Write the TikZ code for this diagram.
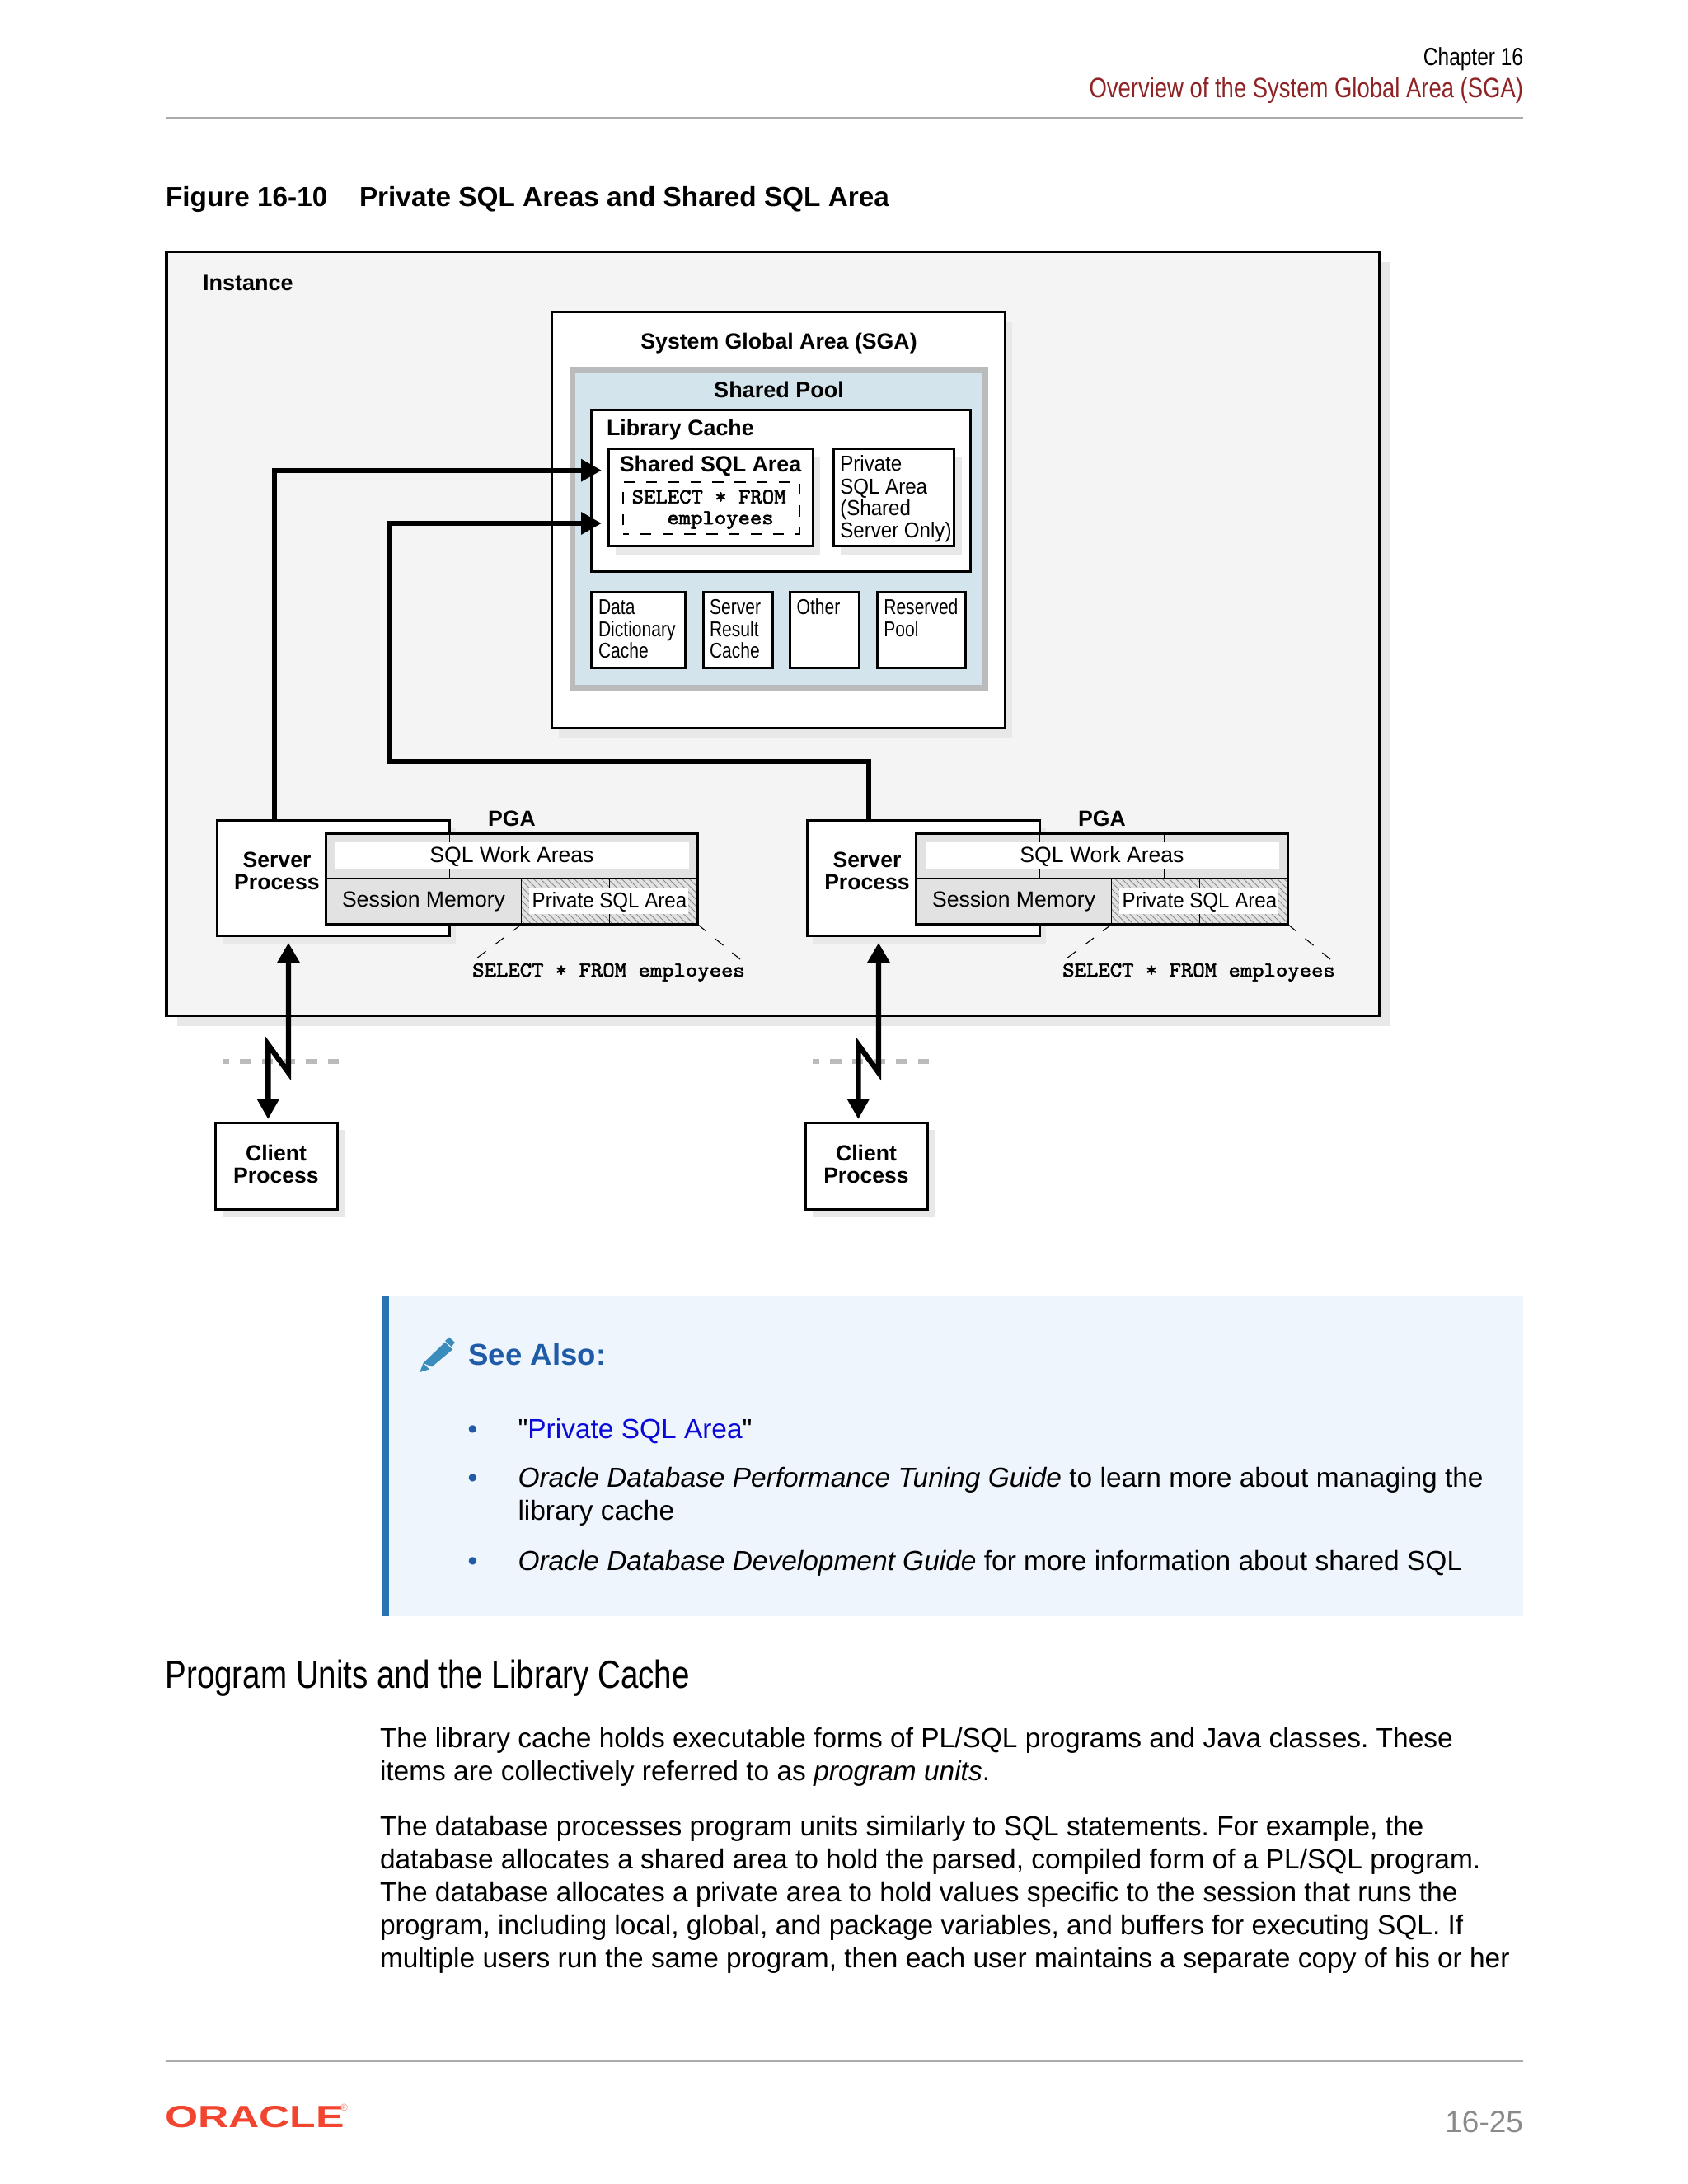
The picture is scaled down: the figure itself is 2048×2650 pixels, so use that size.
\documentclass[tikz,border=0pt]{standalone}
\usepackage{fontspec}
\usepackage{xcolor}
\usetikzlibrary{arrows.meta,patterns.meta,shadows}
\setmainfont{Liberation Sans}
\newfontfamily\slimtext[FakeStretch=0.81]{Liberation Sans}
\newfontfamily\boxtext[FakeStretch=0.81]{Liberation Sans}
\newfontfamily\midtext[FakeStretch=0.92]{Liberation Sans}
\newfontfamily\logotext[FakeStretch=1.38]{Liberation Sans}
\newfontfamily\quotetext{Liberation Sans}
\newfontfamily\codetext[FakeBold=2.4,FakeStretch=1.09]{Latin Modern Mono}
\definecolor{instfill}{HTML}{F4F4F4}
\definecolor{shadegrey}{HTML}{E8E8E8}
\definecolor{poolblue}{HTML}{D3E4EC}
\definecolor{poolrim}{HTML}{B9BBBC}
\definecolor{pgagrey}{HTML}{E2E2E2}
\definecolor{rulegrey}{HTML}{ABABAB}
\definecolor{noteblue}{HTML}{EEF5FD}
\definecolor{notebar}{HTML}{2A72B2}
\definecolor{notehead}{HTML}{1F5BA6}
\definecolor{pencilblue}{HTML}{3A8CBD}
\definecolor{linkblue}{HTML}{0A0AD8}
\definecolor{headred}{HTML}{8E2326}
\definecolor{logored}{HTML}{F2452F}
\definecolor{pagegrey}{HTML}{8A8A8A}
\tikzset{
  sized/.style 2 args={minimum width=#1*0.5pt,minimum height=#2*0.5pt,anchor=north west,inner sep=0pt,outer sep=0pt},
  boxw/.style={draw=black,line width=1.5pt,fill=white},
  castshadow/.style 2 args={copy shadow={shadow xshift=#1*0.5pt,shadow yshift=-#2*0.5pt,fill=shadegrey,draw=none}},
  lbl/.style={anchor=base west,inner sep=0pt,outer sep=0pt},
  lblc/.style={anchor=base,inner sep=0pt,outer sep=0pt},
  lblr/.style={anchor=base east,inner sep=0pt,outer sep=0pt},
  heavy/.style={font=\bfseries\fontsize{13.3}{14}\selectfont},
  small/.style={font=\boxtext\fontsize{13}{14}\selectfont},
  plain/.style={font=\fontsize{13.3}{14}\selectfont},
  sqlcode/.style={font=\codetext\fontsize{12.8}{14}\selectfont},
  body/.style={font=\frenchspacing\fontsize{16.73}{20}\selectfont},
  flow/.style={line width=3.2pt,miter limit=12,line join=miter},
  flowtip/.style={-{Triangle[length=12.5pt,width=13pt]}}
}
\begin{document}
\begin{tikzpicture}[x=0.5pt,y=-0.5pt]
\useasboundingbox (0,0) rectangle (2048,2650);
% page head
\node[lblr,font=\slimtext\fontsize{15.1}{16}\selectfont] (chapter) at (1848,79) {Chapter 16};
\node[lblr,font=\slimtext\fontsize{16.95}{18}\selectfont,text=headred] (section) at (1848,118.5) {Overview of the System Global Area (SGA)};
\draw[rulegrey,line width=1pt] (201,143) -- (1848,143);
\node[lbl,font=\bfseries\fontsize{16.67}{18}\selectfont] (figno) at (201,250) {Figure 16-10};
\node[lbl,font=\bfseries\fontsize{16.67}{18}\selectfont] (figname) at (436,250) {Private SQL Areas and Shared SQL Area};
% instance
\node[sized={1472}{927},draw=black,line width=1.75pt,fill=instfill,castshadow={13}{12}] (inst) at (202,305.5) {};
\node[lbl,font=\bfseries\fontsize{13.5}{14}\selectfont] (instname) at (246,352.4) {Instance};
% sga
\node[sized={550}{505},boxw,castshadow={9}{12}] (sga) at (669,378.5) {};
\node[lblc,font=\bfseries\fontsize{13.35}{14}\selectfont] (sganame) at (945,423) {System Global Area (SGA)};
\node[sized={501}{386},draw=poolrim,line width=3.5pt,fill=poolblue] (pool) at (694.5,448.5) {};
\node[lblc,font=\bfseries\fontsize{13.5}{14}\selectfont] (poolname) at (945,482) {Shared Pool};
\node[sized={459.7}{195.5},boxw] (lib) at (717.3,497.8) {};
\node[lbl,font=\bfseries\fontsize{13.4}{14}\selectfont] (libname) at (736,528) {Library Cache};
\node[sized={248}{118},boxw,castshadow={9}{10}] (shared) at (738,544.5) {};
\node[lblc,font=\bfseries\fontsize{13.4}{14}\selectfont] (sharedname) at (862,572) {Shared SQL Area};
\node[sized={214}{63},draw=black,line width=1pt,dash pattern=on 6.7pt off 6.7pt,dash phase=3pt] (stmt) at (756,585) {};
\node[lbl,sqlcode] (stmta) at (766.7,610.7) {SELECT * FROM};
\node[lblc,sqlcode] (stmtb) at (874,636) {employees};
\node[sized={146.5}{118},boxw,castshadow={9}{10}] (priv) at (1011,544.5) {};
\foreach \n/\yb/\txt in {a/571.7/Private,b/599/SQL Area,c/625.3/(Shared,d/652.3/Server Only)}
  \node[lbl,font=\midtext\fontsize{13.1}{14}\selectfont] (priv\n) at (1019.3,\yb) {\txt};
\node[sized={114.3}{92.3},boxw] (dict) at (717.5,718.5) {};
\node[sized={84}{92.3},boxw] (result) at (853,718.5) {};
\node[sized={84.5}{92.3},boxw] (other) at (958,718.5) {};
\node[sized={107.5}{92.3},boxw] (reserved) at (1064,718.5) {};
\foreach \n/\xb/\yb/\txt in {a/726/745.7/Data,b/726/772.3/Dictionary,c/726/798.3/Cache,d/861/745.7/Server,e/861/772.3/Result,f/861/798.3/Cache,g/966.7/745.7/Other,h/1072.3/745.7/Reserved,i/1072.3/772.3/Pool}
  \node[lbl,small] (tag\n) at (\xb,\yb) {\txt};
% both server processes
\foreach \dx/\s in {0/a,716/b}{
\begin{scope}[shift={(\dx,0)}]
  \node[sized={282.2}{139.9},boxw,castshadow={7}{9}] (srv\s) at (263.3,995.8) {};
  \node[lblc,heavy] (srvname\s) at (336,1052.5) {Server};
  \node[lblc,heavy] (srvproc\s) at (336,1079) {Process};
  \node[lblc,heavy] (pganame\s) at (621,1002) {PGA};
  \node[sized={451}{54.3},fill=pgagrey] (work\s) at (395.7,1011.7) {};
  \node[sized={236.8}{55.7},fill=pgagrey] (sess\s) at (395.7,1066) {};
  \node[sized={214.2}{55.7},fill=pgagrey,postaction={pattern={Lines[angle=-45,distance=2.9pt,line width=.45pt]},pattern color=black!45}] (area\s) at (632.5,1066) {};
  \draw[line width=.8pt] (545.5,1011.7) -- (545.5,1066) (696.3,1011.7) -- (696.3,1066) (739.3,1066) -- (739.3,1121.7);
  \node[sized={428.6}{32.7},fill=white] (workw\s) at (407,1022) {};
  \node[sized={193.3}{32.6},fill=white] (areaw\s) at (641.7,1076.7) {};
  \draw[line width=.9pt] (area\s.north west) -- (area\s.south west) (work\s.south west) -- (work\s.south east);
  \node[sized={451}{110},draw=black,line width=1.25pt] (pga\s) at (395.7,1011.7) {};
  \node[lblc,plain] (workname\s) at (621,1046.7) {SQL Work Areas};
  \node[lbl,plain] (sessname\s) at (415,1100) {Session Memory};
  \node[lbl,font=\midtext\fontsize{13.1}{14}\selectfont] (areaname\s) at (645.7,1101) {Private SQL Area};
  \coordinate (cutl\s) at (576.7,1164);
  \coordinate (cutr\s) at (898,1164);
  \draw[line width=.55pt,dash pattern=on 6.5pt off 7pt] (area\s.south west) -- (cutl\s);
  \draw[line width=.55pt,dash pattern=on 6.5pt off 7pt] (area\s.south east) -- (cutr\s);
  \node[lblc,sqlcode] (stmtfull\s) at (738.5,1185) {SELECT * FROM employees};
  \node[sized={148}{105.5},boxw,castshadow={9}{9}] (client\s) at (261,1362.3) {};
  \node[lblc,heavy] (clientname\s) at (335,1408.5) {Client};
  \node[lblc,heavy] (clientproc\s) at (335,1435) {Process};
  \coordinate (netl\s) at (269.7,1288);
  \coordinate (netr\s) at (411.7,1288);
  \draw[poolrim,line width=3pt,dash pattern=on 6.67pt off 6.67pt,dash phase=2.5pt] (netl\s) -- (netr\s);
  \coordinate (upend\s) at (350,1144);
  \coordinate (downend\s) at (325.3,1358);
  \draw[flow,{Triangle[length=12pt,width=13pt]}-{Triangle[length=12.5pt,width=13pt]}] (upend\s) -- ++(0,157.5) -- ++(-24.7,-34) -- (downend\s);
\end{scope}
}
% connectors to the shared sql area
\coordinate (froma) at (333,995.8);
\coordinate (fromb) at (1054,995.8);
\coordinate (toa) at (730,570.7);
\coordinate (tob) at (730,635);
\coordinate (bendb) at (472.7,924);
\draw[flow,flowtip] (froma) |- (toa);
\draw[flow,flowtip] (fromb) |- (bendb) |- (tob);
% see also
\node[sized={1384}{388},fill=noteblue] (note) at (464,1573) {};
\node[sized={8}{388},fill=notebar] (notebar) at (464,1573) {};
\fill[pencilblue] (513.5,1654) -- (540,1628.5) -- (549,1637.5) -- (524,1658.5) -- cycle;
\fill[pencilblue] (540,1627) -- (545,1622.5) -- (552,1629) -- (547.5,1634) -- cycle;
\fill[pencilblue] (513.5,1654) -- (521,1661.5) -- (509.3,1665) -- cycle;
\node[lbl,font=\bfseries\fontsize{18.3}{20}\selectfont,text=notehead] (notename) at (568.5,1656) {See Also:};
\foreach \n/\yb in {a/1745,b/1804,c/1905}
  \node[lbl,body,text=notehead] (dot\n) at (567.5,\yb) {•};
\node[lbl,body] (notea) at (628.5,1745) {{\quotetext"}\textcolor{linkblue}{Private SQL Area}{\quotetext"}};
\node[lbl,body] (noteb) at (628.5,1804) {\itshape Oracle Database Performance Tuning Guide \upshape to learn more about managing the};
\node[lbl,body] (notec) at (628.5,1844) {library cache};
\node[lbl,body] (noted) at (628.5,1905) {\itshape Oracle Database Development Guide \upshape for more information about shared SQL};
% program units
\node[lbl,font=\slimtext\fontsize{23.8}{26}\selectfont] (unitshead) at (200.5,2048.5) {Program Units and the Library Cache};
\node[lbl,body] (unitsa) at (461,2120) {The library cache holds executable forms of PL/SQL programs and Java classes. These};
\node[lbl,body] (unitsb) at (461,2160) {items are collectively referred to as \itshape program units\upshape.};
\node[lbl,body] (unitsc) at (461,2227) {The database processes program units similarly to SQL statements. For example, the};
\node[lbl,body] (unitsd) at (461,2267) {database allocates a shared area to hold the parsed, compiled form of a PL/SQL program.};
\node[lbl,body] (unitse) at (461,2307) {The database allocates a private area to hold values specific to the session that runs the};
\node[lbl,body] (unitsf) at (461,2347) {program, including local, global, and package variables, and buffers for executing SQL. If};
\node[lbl,body] (unitsg) at (461,2387) {multiple users run the same program, then each user maintains a separate copy of his or her};
% foot
\draw[rulegrey,line width=1pt] (201,2500.7) -- (1848,2500.7);
\node[lbl,font=\logotext\bfseries\fontsize{18.7}{20}\selectfont,text=logored] (logo) at (200,2581.3) {ORACLE};
\node[lbl,font=\fontsize{6}{7}\selectfont,text=logored!70] (logomark) at (413,2561) {®};
\node[lblr,font=\fontsize{18.5}{20}\selectfont,text=pagegrey] (pageno) at (1848,2587) {16-25};
\end{tikzpicture}
\end{document}
